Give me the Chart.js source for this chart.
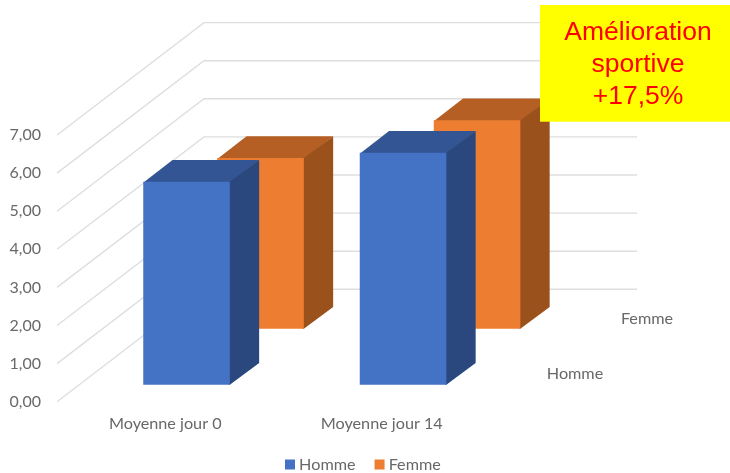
<!DOCTYPE html>
<html>
<head>
<meta charset="utf-8">
<style>html,body{margin:0;padding:0;background:#fff}canvas{display:block}</style>
<script src="https://cdn.jsdelivr.net/npm/chart.js@4/dist/chart.umd.js"></script>
</head>
<body>
<canvas id="c" width="730" height="473"></canvas>
<script>
const categories = ["Moyenne jour 0", "Moyenne jour 14"];
const homme = [5.33, 6.09];
const femme = [4.48, 5.47];
const seriesNames = ["Homme", "Femme"];
const calloutLines = ["Amélioration", "sportive", "+17,5%"];

const FONT = "Lato";
const TEXT = "#686868";
const WALL_DX = 147, WALL_DY = 112.4;
const PLOT = {left: 57, right: 490, top: 135, bottom: 401.7};
// depth placement of each series, plus face colours
const depthStyle = [
  {dx: 21.3, dy: -17, depthX: 29.3, depthY: 21.7, top: "#335593", side: "#2A487E", labelX: 575, labelY: 373.5},
  {dx: 95.3, dy: -73, depthX: 29.3, depthY: 21.7, top: "#B55F24", side: "#9A511C", labelX: 647, labelY: 318.5}
];

const scene3d = {
  id: "scene3d",
  afterLayout(chart) {
    const lg = chart.legend;
    const w = lg.right - lg.left, p = chart.options.plugins.legend.labels.padding;
    lg.left = 289 - p; lg.right = lg.left + w;
    const h = lg.bottom - lg.top;
    lg.top = 433.5; lg.bottom = lg.top + h;
    chart.scales.x.bottom = 473;
  },
  beforeDatasetsDraw(chart) {
    const {ctx, scales: {x, y}} = chart;
    ctx.save();
    ctx.strokeStyle = "#DEDEDE";
    ctx.lineWidth = 1.4;
    y.ticks.forEach(t => {
      const py = y.getPixelForValue(t.value);
      ctx.beginPath();
      ctx.moveTo(x.left, py);
      ctx.lineTo(x.left + WALL_DX, py - WALL_DY);
      ctx.lineTo(x.right + WALL_DX, py - WALL_DY);
      ctx.stroke();
    });
    ctx.restore();
  },
  beforeDatasetDraw(chart, args) {
    const {ctx} = chart;
    const s = depthStyle[args.index];
    ctx.save();
    ctx.translate(s.dx, s.dy);
    args.meta.data.forEach(b => {
      const l = b.x - b.width / 2, r = b.x + b.width / 2, t = b.y, base = b.base;
      ctx.fillStyle = s.top;
      ctx.beginPath();
      ctx.moveTo(l, t + 1); ctx.lineTo(l + s.depthX, t - s.depthY);
      ctx.lineTo(r + s.depthX, t - s.depthY); ctx.lineTo(r, t + 1);
      ctx.closePath(); ctx.fill();
      ctx.fillStyle = s.side;
      ctx.beginPath();
      ctx.moveTo(r - 1, t); ctx.lineTo(r, t); ctx.lineTo(r + s.depthX, t - s.depthY);
      ctx.lineTo(r + s.depthX, base - s.depthY); ctx.lineTo(r, base); ctx.lineTo(r - 1, base);
      ctx.closePath(); ctx.fill();
    });
  },
  afterDatasetDraw(chart) { chart.ctx.restore(); },
  afterDraw(chart) {
    const {ctx} = chart;
    ctx.save();
    ctx.font = "16.2px " + FONT;
    ctx.fillStyle = TEXT;
    ctx.textAlign = "center";
    ctx.textBaseline = "middle";
    seriesNames.forEach((n, i) => ctx.fillText(n, depthStyle[i].labelX, depthStyle[i].labelY));
    ctx.fillStyle = "#FFFF00";
    ctx.fillRect(540, 5, 190, 116.7);
    ctx.fillStyle = "#FF0000";
    ctx.font = "26.5px 'Liberation Sans'";
    calloutLines.forEach((t, i) => ctx.fillText(t, 638, 33 + i * 32));
    ctx.restore();
  }
};

new Chart(document.getElementById("c"), {
  type: "bar",
  data: {
    labels: categories,
    datasets: [
      {label: seriesNames[0], data: homme, backgroundColor: "#4472C4", clip: false},
      {label: seriesNames[1], data: femme, backgroundColor: "#ED7D31", clip: false}
    ]
  },
  options: {
    responsive: false,
    animation: false,
    devicePixelRatio: 1,
    datasets: {bar: {grouped: false, barPercentage: 0.4, categoryPercentage: 1}},
    layout: {padding: {top: PLOT.top, right: 730 - PLOT.right, left: 0, bottom: 0}},
    scales: {
      x: {
        grid: {display: false, drawTicks: false},
        border: {display: false},
        ticks: {color: TEXT, font: {family: FONT, size: 16.2}, padding: 12, maxRotation: 0},
        afterFit(s) { s.height = 473 - PLOT.bottom - s.chart.legend.height; }
      },
      y: {
        min: 0, max: 7,
        grid: {display: false, drawTicks: false},
        border: {display: false},
        ticks: {
          stepSize: 1, color: TEXT, padding: 16,
          font: {family: FONT, size: 16},
          callback: v => v.toFixed(2).replace(".", ",")
        },
        afterFit(s) { s.width = PLOT.left; }
      }
    },
    plugins: {
      tooltip: {enabled: false},
      legend: {
        position: "bottom",
        align: "start",
        labels: {
          usePointStyle: true, pointStyle: "rect", boxWidth: 2, boxHeight: 10,
          padding: 23, color: TEXT, font: {family: FONT, size: 16.2}
        }
      }
    }
  },
  plugins: [scene3d]
});
</script>
</body>
</html>
